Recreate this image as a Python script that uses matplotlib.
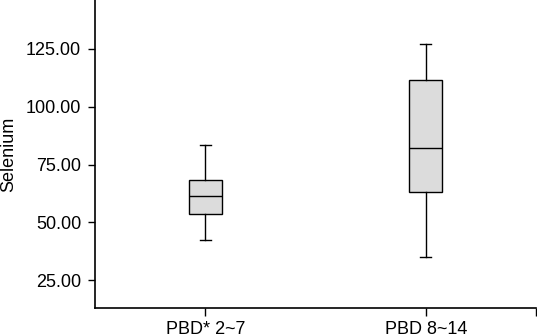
import matplotlib
matplotlib.use("Agg")
import matplotlib.pyplot as plt
from matplotlib.ticker import FormatStrFormatter

plt.rcParams.update({"font.family": ["Liberation Sans", "DejaVu Sans"],
                     "font.size": 13})

# five-number summaries per postburn-day group
groups = ["PBD* 2~7", "PBD 8~14"]
whislo = [42.5, 34.8]
q1 = [53.4, 62.9]
med = [61.2, 82.1]
q3 = [68.5, 111.4]
whishi = [83.5, 127.2]

stats = [{"label": g, "whislo": lo, "q1": a, "med": m, "q3": b, "whishi": hi, "fliers": []}
         for g, lo, a, m, b, hi in zip(groups, whislo, q1, med, q3, whishi)]

fig = plt.figure(figsize=(5.37, 3.36), dpi=100)
ax = fig.add_axes([95 / 537, 28 / 336, 441 / 537, 308 / 336])

ax.bxp(stats, positions=[1, 2], widths=0.15, patch_artist=True,
       boxprops=dict(facecolor="#dcdcdc", edgecolor="black", linewidth=1.0),
       medianprops=dict(color="black", linewidth=1.0),
       whiskerprops=dict(color="black", linewidth=1.0),
       capprops=dict(color="black", linewidth=1.0),
       capwidths=0.05)

ax.set_xlim(0.5, 2.5)
ax.set_ylim(12.9, 146.2)
ax.set_yticks([25, 50, 75, 100, 125])
ax.yaxis.set_major_formatter(FormatStrFormatter("%.2f"))
ax.set_xticks([1, 2])
ax.set_xticklabels(groups)
ax.set_xticks([2.5], minor=True)
ax.tick_params(axis="x", which="both", length=6, width=1.0, pad=3)
ax.tick_params(axis="y", length=5, width=1.0, pad=5)
ax.set_ylabel("Selenium", labelpad=6)

for side in ("top", "right"):
    ax.spines[side].set_visible(False)
for side in ("left", "bottom"):
    ax.spines[side].set_linewidth(1.2)

fig.savefig("out.png", dpi=100)
